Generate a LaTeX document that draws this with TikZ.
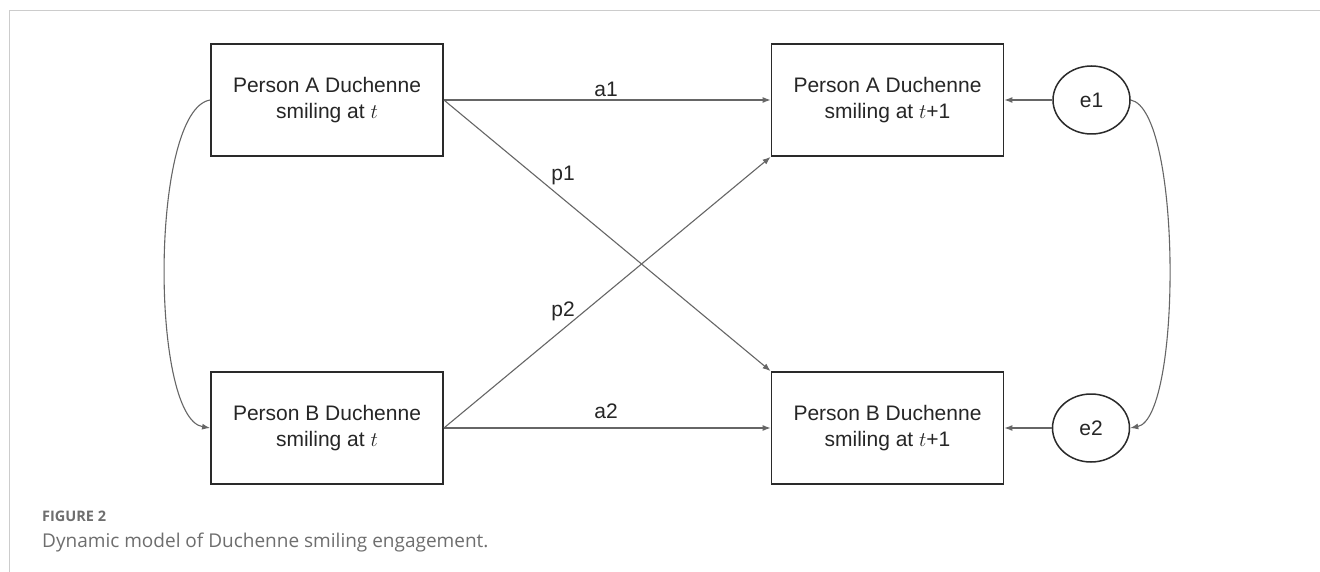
\documentclass[tikz,border=0pt]{standalone}
\usepackage{fontspec}
\setmainfont{Liberation Sans}
\newfontfamily\capfont{Open Sans}
\usetikzlibrary{arrows.meta}
\definecolor{boxline}{HTML}{2A2A2A}
\definecolor{conn}{HTML}{666666}
\definecolor{captxt}{HTML}{6E6E6E}
\definecolor{framec}{HTML}{CCCCCC}
\tikzset{
  varbox/.style={draw=boxline, line width=1.8pt, minimum width=232pt, minimum height=112pt,
    align=center, inner sep=0pt, font=\fontsize{21}{26}\selectfont, text=black!85},
  errnode/.style={draw=boxline, line width=1.5pt, ellipse, minimum width=77pt, minimum height=68pt,
    inner sep=0pt, font=\fontsize{21}{26}\selectfont, text=black!85},
  pathlbl/.style={font=\fontsize{21}{26}\selectfont, text=black!85, inner sep=0pt},
  conn/.style={draw=conn, line width=1.1pt, -{Latex[length=8pt,width=6pt]}},
}
\usetikzlibrary{shapes.geometric}
\begin{document}
\begin{tikzpicture}[x=1pt,y=-1pt]
\useasboundingbox (0,0) rectangle (1320,572);
\fill[white] (0,0) rectangle (1320,572);
\draw[framec, line width=1.5pt] (9.5,572) -- (9.5,10.5) -- (1320,10.5);

\node[varbox] (at)  at (327,100)   {Person A Duchenne\\smiling at $t$};
\node[varbox] (at1) at (887.5,100) {Person A Duchenne\\smiling at $t$+1};
\node[varbox] (bt)  at (327,428)   {Person B Duchenne\\smiling at $t$};
\node[varbox] (bt1) at (887.5,428) {Person B Duchenne\\smiling at $t$+1};
\node[errnode] (e1) at (1091.5,100) {e1};
\node[errnode] (e2) at (1091,428) {e2};

\draw[conn] (at.east) -- (at1.west);
\draw[conn] (at.east) -- (bt1.north west);
\draw[conn] (bt.east) -- (at1.south west);
\draw[conn] (bt.east) -- (bt1.west);
\draw[conn] (e1.west) -- (at1.east);
\draw[conn] (e2.west) -- (bt1.east);
\draw[conn] (at.west) .. controls (150,110) and (150,418) .. (bt.west);
\draw[conn] (e1.east) .. controls (1182,110) and (1182,418) .. (e2.east);

\node[pathlbl] (la1) at (606,89) {a1};
\node[pathlbl] (la2) at (606,411) {a2};
\node[pathlbl] (lp1) at (563,175) {p1};
\node[pathlbl] (lp2) at (563,311) {p2};

\node[anchor=base west, inner sep=0pt, text=captxt, font=\capfont\bfseries\fontsize{14.5}{17}\selectfont] (fig) at (42,521) {FIGURE 2};
\node[anchor=base west, inner sep=0pt, text=captxt, font=\capfont\fontsize{19}{23}\selectfont] (cap) at (42,547) {Dynamic model of Duchenne smiling engagement.};
\end{tikzpicture}
\end{document}
